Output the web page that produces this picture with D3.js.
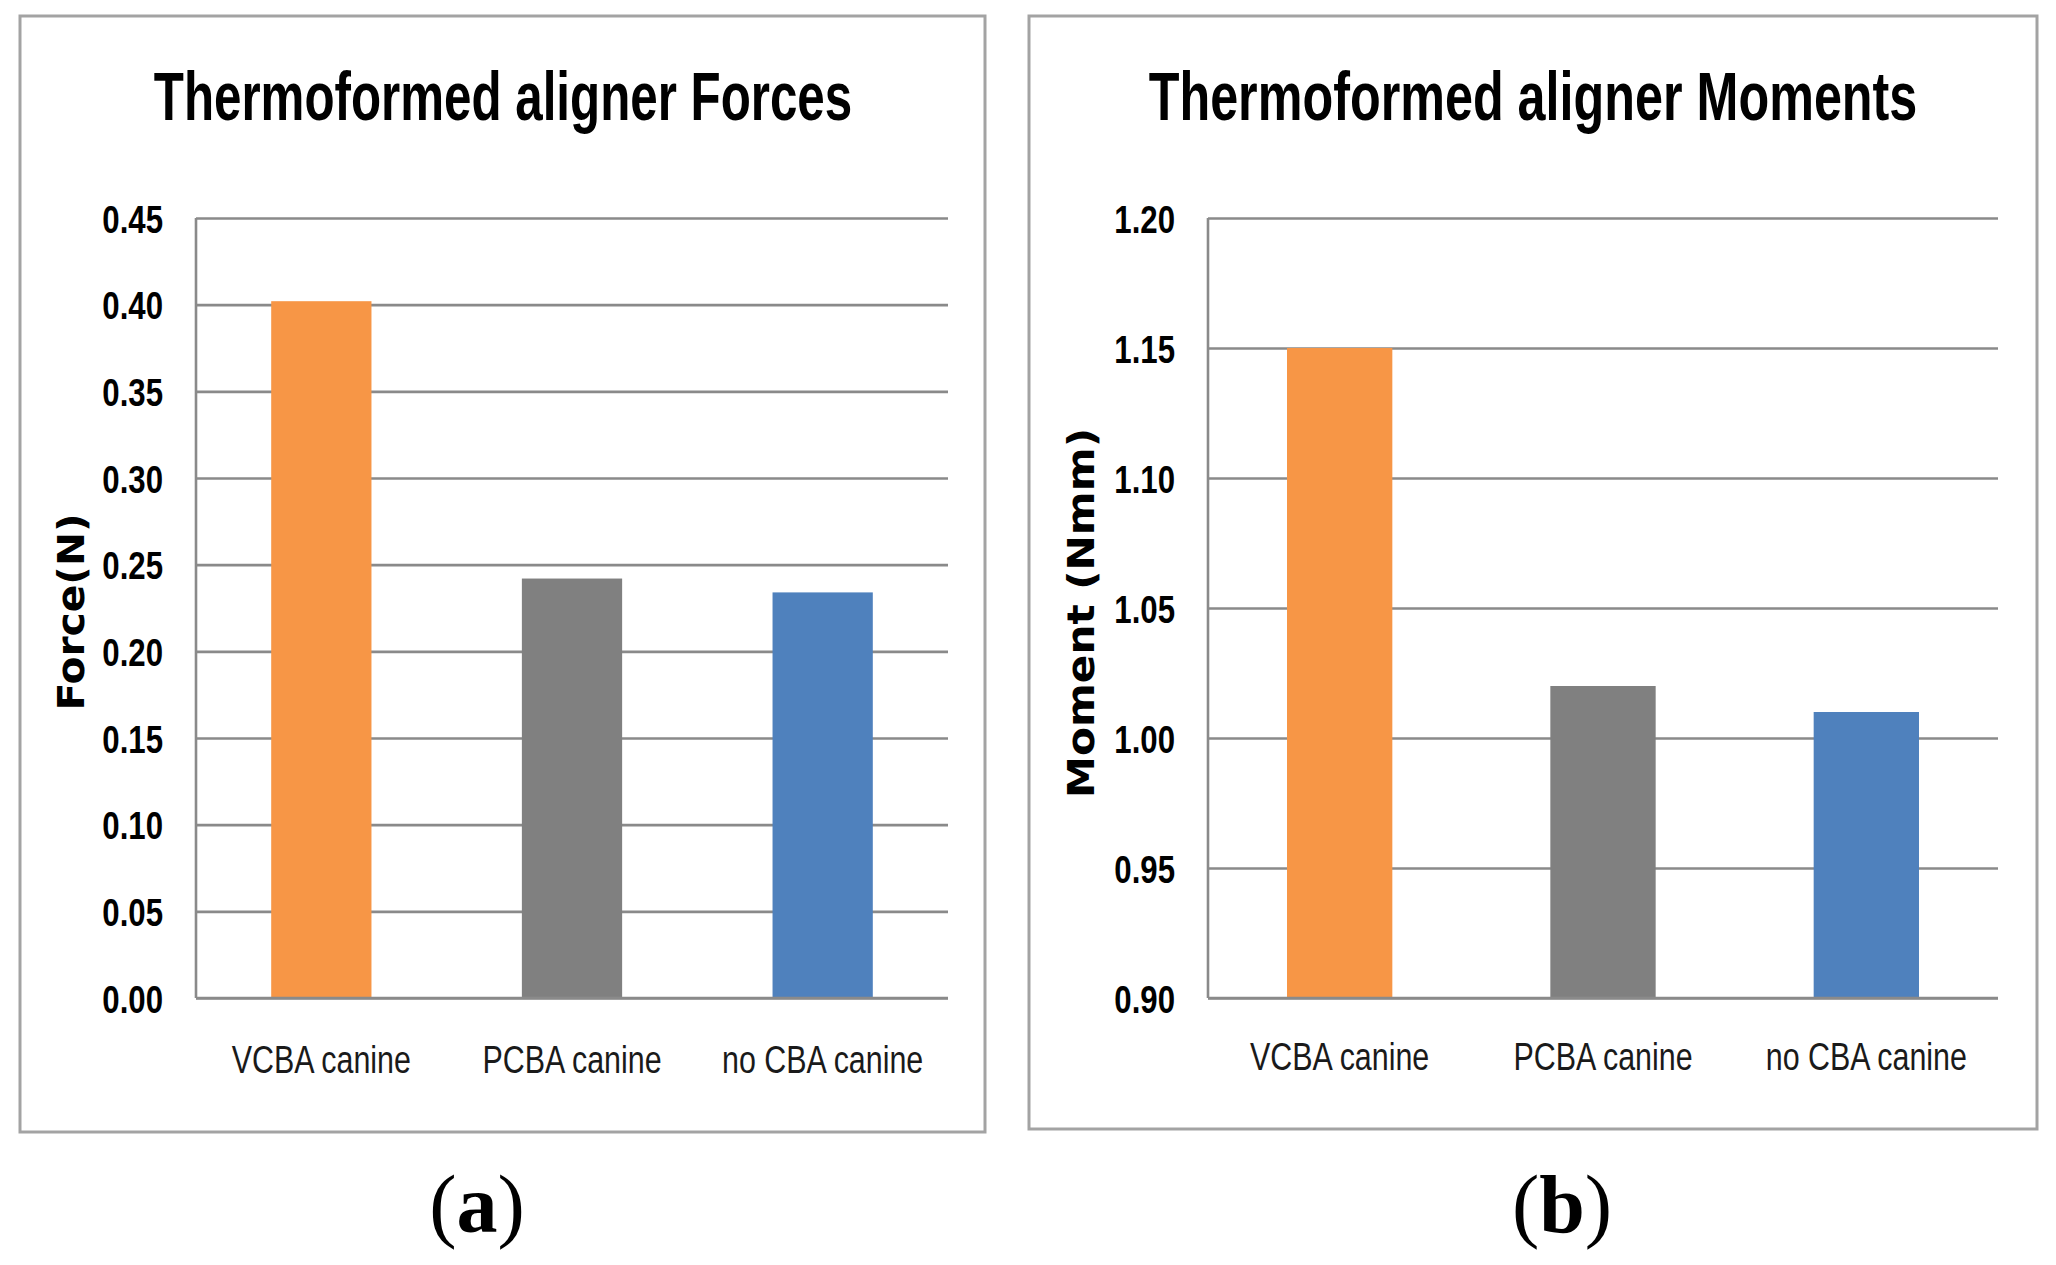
<!DOCTYPE html>
<html>
<head>
<meta charset="utf-8">
<script src="https://cdn.jsdelivr.net/npm/d3@7"></script>
<style>
  body { margin: 0; background: #fff; }
  svg { display: block; }
</style>
</head>
<body>
<div id="main-diagram"></div>
<script>
// values
const categories = ["VCBA canine", "PCBA canine", "no CBA canine"]
const forceValues = [0.402, 0.242, 0.234]
const momentValues = [1.15, 1.02, 1.01]
const forceTicks = [0, 0.05, 0.10, 0.15, 0.20, 0.25, 0.30, 0.35, 0.40, 0.45]
const momentTicks = [0.90, 0.95, 1.00, 1.05, 1.10, 1.15, 1.20]
const barColors = ["#F79646", "#808080", "#4F81BD"]

const width = 2056
const height = 1265

const svg = d3.select("#main-diagram")
    .append("svg")
    .attr("width", width)
    .attr("height", height)

svg.append("rect")
    .attr("width", width)
    .attr("height", height)
    .attr("fill", "#fff")

// squeeze text horizontally (around its anchor) to mimic the condensed original font
function squeeze(sel, ratio) {
    sel.each(function () {
        const ax = +this.getAttribute("x") || 0
        const prev = this.getAttribute("transform") || ""
        d3.select(this)
            .attr("transform", `${prev} translate(${ax},0) scale(${ratio},1) translate(${-ax},0)`)
    })
}

function drawPanel(p) {
    const g = svg.append("g")

    // outer frame
    g.append("rect")
        .attr("x", p.box[0])
        .attr("y", p.box[1])
        .attr("width", p.box[2])
        .attr("height", p.box[3])
        .attr("fill", "#fff")
        .attr("stroke", "#a3a3a3")
        .attr("stroke-width", 3)

    const x = d3.scaleBand()
        .domain(categories)
        .range([p.x0, p.x1])
        .padding(0)

    const y = d3.scaleLinear()
        .domain(p.domain)
        .range([p.yBottom, p.yTop])

    // gridlines + tick labels
    const yAxis = g.append("g")
        .attr("transform", `translate(${p.x0},0)`)
        .call(d3.axisLeft(y)
            .tickValues(p.ticks)
            .tickFormat(d3.format(".2f"))
            .tickSize(-(p.x1 - p.x0))
            .tickPadding(33))
    yAxis.select(".domain").remove()
    yAxis.selectAll(".tick line")
        .attr("stroke", "#8a8a8a")
        .attr("stroke-width", 2.6)
    yAxis.selectAll(".tick text")
        .attr("fill", "#000")
        .attr("font-family", "'Liberation Sans', Arial, sans-serif")
        .attr("font-weight", "bold")
        .attr("font-size", 39)
        .attr("dy", "0.36em")
        .call(squeeze, 0.80)

    // vertical axis line
    g.append("line")
        .attr("x1", p.x0).attr("x2", p.x0)
        .attr("y1", p.yTop).attr("y2", p.yBottom)
        .attr("stroke", "#8a8a8a")
        .attr("stroke-width", 2.6)

    // bars
    const bw = x.bandwidth() * 0.4
    g.selectAll(".bar")
        .data(p.values)
        .enter()
        .append("rect")
        .attr("class", "bar")
        .attr("x", (d, i) => x(categories[i]) + (x.bandwidth() - bw) / 2)
        .attr("y", d => y(d))
        .attr("width", bw)
        .attr("height", d => y(p.domain[0]) - y(d))
        .attr("fill", (d, i) => barColors[i])

    // baseline over bars
    g.append("line")
        .attr("x1", p.x0).attr("x2", p.x1)
        .attr("y1", p.yBottom).attr("y2", p.yBottom)
        .attr("stroke", "#8a8a8a")
        .attr("stroke-width", 2.6)

    // category labels
    g.selectAll(".cat")
        .data(categories)
        .enter()
        .append("text")
        .attr("class", "cat")
        .attr("x", d => x(d) + x.bandwidth() / 2)
        .attr("y", p.catY)
        .attr("text-anchor", "middle")
        .attr("font-family", "'Liberation Sans', Arial, sans-serif")
        .attr("font-size", 39)
        .attr("fill", "#1a1a1a")
        .text(d => d)
        .call(squeeze, 0.78)

    // title
    g.append("text")
        .attr("x", p.titleX)
        .attr("y", 120)
        .attr("text-anchor", "middle")
        .attr("font-family", "'Liberation Sans', Arial, sans-serif")
        .attr("font-weight", "bold")
        .attr("font-size", 68)
        .attr("fill", "#000")
        .text(p.title)
        .call(squeeze, p.titleSqueeze)

    // y axis title
    g.append("text")
        .attr("transform", `translate(${p.labelX},${p.labelY}) rotate(-90)`)
        .attr("text-anchor", "middle")
        .attr("font-family", "'DejaVu Sans', Verdana, sans-serif")
        .attr("font-weight", "bold")
        .attr("font-size", 37)
        .attr("fill", "#000")
        .text(p.yLabel)
        .call(squeeze, p.labelSqueeze)

    // panel letter
    const letter = svg.append("text")
        .attr("x", p.letterX)
        .attr("y", 1232)
        .attr("text-anchor", "middle")
        .attr("font-family", "'Liberation Serif', 'Times New Roman', serif")
        .attr("font-size", 82)
        .attr("fill", "#000")
    letter.append("tspan").text("(")
    letter.append("tspan").attr("font-weight", "bold").text(p.letter)
    letter.append("tspan").text(")")
}

drawPanel({
    box: [20, 16, 965, 1116],
    x0: 196, x1: 948, yTop: 218, yBottom: 998,
    domain: [0, 0.45], ticks: forceTicks, values: forceValues,
    title: "Thermoformed aligner Forces", titleX: 503, titleSqueeze: 0.725,
    yLabel: "Force(N)", labelX: 84, labelY: 612, labelSqueeze: 1.1,
    catY: 1073, letter: "a", letterX: 477
})

drawPanel({
    box: [1029, 16, 1008, 1113],
    x0: 1208, x1: 1998, yTop: 218, yBottom: 998,
    domain: [0.90, 1.20], ticks: momentTicks, values: momentValues,
    title: "Thermoformed aligner Moments", titleX: 1533, titleSqueeze: 0.74,
    yLabel: "Moment (Nmm)", labelX: 1094, labelY: 613, labelSqueeze: 1.14,
    catY: 1070, letter: "b", letterX: 1562
})
</script>
</body>
</html>
